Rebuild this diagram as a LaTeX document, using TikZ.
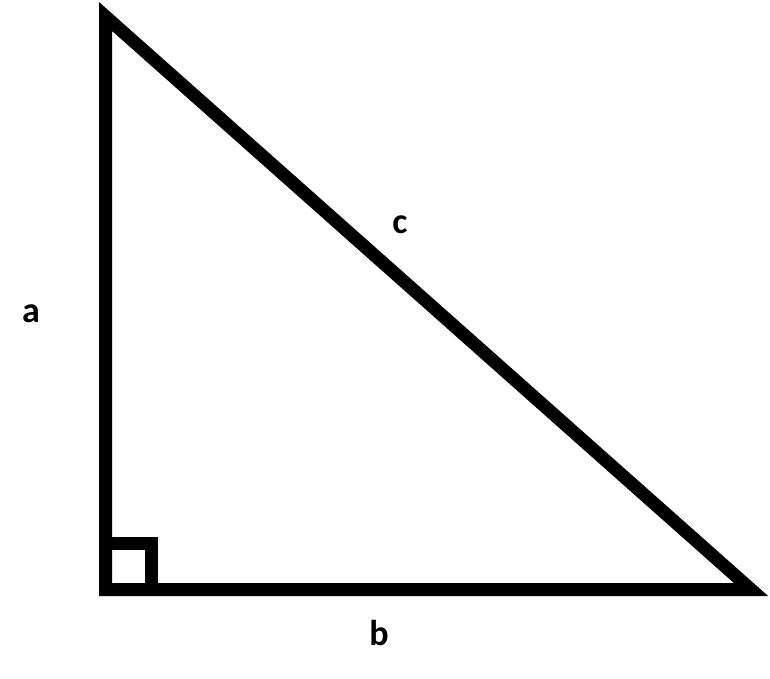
\documentclass[tikz,border=0pt]{standalone}
\usepackage{fontspec}
\setmainfont{Carlito}
\begin{document}
\begin{tikzpicture}[x=1pt,y=-1pt,
  edge/.style={line width=13pt,line join=miter,miter limit=10},
  lbl/.style={anchor=base,inner sep=0pt,font=\fontsize{36}{40}\selectfont\bfseries}]
\useasboundingbox (0,0) rectangle (770,679);
\coordinate (A) at (105.5,16.5);
\coordinate (B) at (105.5,589.5);
\coordinate (C) at (751,589.5);
\coordinate (S1) at (105.5,543.5);
\coordinate (S2) at (151.5,543.5);
\coordinate (S3) at (151.5,589.5);
\draw[edge] (A) -- (B) -- (C) -- cycle;
\draw[edge] (S1) -- (S2) -- (S3);
\node[lbl] (la) at (31,322) {a};
\node[lbl] (lc) at (400,233) {c};
\node[lbl] (lb) at (379,645) {b};
\end{tikzpicture}
\end{document}
